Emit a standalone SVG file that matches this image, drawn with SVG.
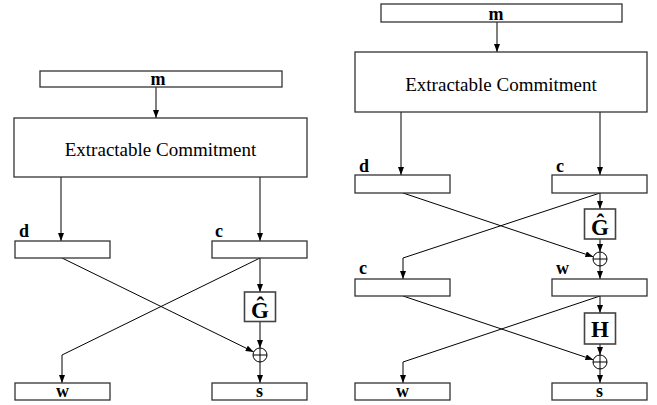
<svg xmlns="http://www.w3.org/2000/svg" width="657" height="405" viewBox="0 0 657 405">
<defs>
<marker id="ah" viewBox="0 0 8 6" refX="8" refY="3" markerWidth="8" markerHeight="6" markerUnits="userSpaceOnUse" orient="auto">
<path d="M0,0 L8,3 L0,6 Z" fill="#000"/>
</marker>
<style>
.box{fill:#fff;stroke:#333;stroke-width:1.3}
.fn{fill:#fff;stroke:#444;stroke-width:1.6}
.ln{fill:none;stroke:#000;stroke-width:1}
.ar{fill:none;stroke:#000;stroke-width:1;marker-end:url(#ah)}
.xor{fill:#fff;stroke:#000;stroke-width:1}
.lb{font-family:"Liberation Serif",serif;font-weight:bold;font-size:18px;fill:#000}
.ec{font-family:"Liberation Serif",serif;font-size:19px;fill:#000;text-anchor:middle}
.g{font-family:"Liberation Serif",serif;font-weight:bold;font-size:23px;fill:#000;text-anchor:middle}
</style>
</defs>
<rect width="657" height="405" fill="#fff"/>
<g id="connectors">
<line class="ar" x1="156" y1="87" x2="156" y2="118"/>
<line class="ar" x1="61" y1="177" x2="61" y2="241"/>
<line class="ar" x1="260" y1="177" x2="260" y2="241"/>
<line class="ar" x1="62" y1="258" x2="253.7" y2="351.9"/>
<polyline class="ar" points="260,258 62,355 62,383"/>
<line class="ar" x1="260" y1="258" x2="260" y2="292"/>
<line class="ar" x1="260" y1="321.5" x2="260" y2="348"/>
<line class="ar" x1="260" y1="362" x2="260" y2="383"/>
<line class="ar" x1="497" y1="22" x2="497" y2="52"/>
<line class="ar" x1="401" y1="112" x2="401" y2="175"/>
<line class="ar" x1="600" y1="112" x2="600" y2="175"/>
<line class="ar" x1="600" y1="193" x2="600" y2="209"/>
<line class="ar" x1="600" y1="239" x2="600" y2="252"/>
<line class="ar" x1="403" y1="193" x2="593.4" y2="256.8"/>
<polyline class="ar" points="600,193 403,258 403,279"/>
<line class="ar" x1="600" y1="266" x2="600" y2="279"/>
<line class="ar" x1="600" y1="296" x2="600" y2="313"/>
<line class="ar" x1="600" y1="344" x2="600" y2="355"/>
<line class="ar" x1="403" y1="296" x2="593.4" y2="359.8"/>
<polyline class="ar" points="600,296 403,362 403,383"/>
<line class="ar" x1="600" y1="369" x2="600" y2="383"/>
</g>
<g id="L-m"><rect class="box" x="40" y="71" width="242" height="16"/><text class="lb" x="158" y="85" text-anchor="middle" font-size="20">m</text></g>
<g id="L-ec"><rect class="box" x="14" y="118" width="293" height="59"/><text class="ec" x="160.5" y="156">Extractable Commitment</text></g>
<g id="L-d"><rect class="box" x="15" y="241" width="95" height="17"/><text class="lb" x="19" y="237">d</text></g>
<g id="L-c"><rect class="box" x="212" y="241" width="95" height="17"/><text class="lb" x="215" y="237">c</text></g>
<g id="L-G"><rect class="fn" x="244.5" y="292" width="31" height="29.5"/><text class="g" x="260" y="318">Ĝ</text></g>
<g id="L-xor"><circle class="xor" cx="260" cy="355" r="7"/><line class="ln" x1="253" y1="355" x2="267" y2="355"/><line class="ln" x1="260" y1="348" x2="260" y2="362"/></g>
<g id="L-w"><rect class="box" x="15" y="383" width="95" height="17"/><text class="lb" x="62.5" y="396.5" text-anchor="middle">w</text></g>
<g id="L-s"><rect class="box" x="212" y="383" width="95" height="17"/><text class="lb" x="259.5" y="396.5" text-anchor="middle">s</text></g>
<g id="R-m"><rect class="box" x="381" y="4" width="241" height="18"/><text class="lb" x="496" y="19.5" text-anchor="middle" font-size="20">m</text></g>
<g id="R-ec"><rect class="box" x="355" y="52" width="292" height="60"/><text class="ec" x="501" y="91">Extractable Commitment</text></g>
<g id="R-d"><rect class="box" x="355" y="175" width="95" height="18"/><text class="lb" x="359" y="172">d</text></g>
<g id="R-c"><rect class="box" x="552" y="175" width="95" height="18"/><text class="lb" x="556" y="172">c</text></g>
<g id="R-G"><rect class="fn" x="584.5" y="209" width="31" height="30"/><text class="g" x="600" y="235">Ĝ</text></g>
<g id="R-xor1"><circle class="xor" cx="600" cy="259" r="7"/><line class="ln" x1="593" y1="259" x2="607" y2="259"/><line class="ln" x1="600" y1="252" x2="600" y2="266"/></g>
<g id="R-c2"><rect class="box" x="355" y="279" width="95" height="17"/><text class="lb" x="359" y="274">c</text></g>
<g id="R-w2"><rect class="box" x="552" y="279" width="95" height="17"/><text class="lb" x="556" y="274">w</text></g>
<g id="R-H"><rect class="fn" x="584.5" y="313" width="31" height="31"/><text class="g" x="600" y="336.5">H</text></g>
<g id="R-xor2"><circle class="xor" cx="600" cy="362" r="7"/><line class="ln" x1="593" y1="362" x2="607" y2="362"/><line class="ln" x1="600" y1="355" x2="600" y2="369"/></g>
<g id="R-w"><rect class="box" x="355" y="383" width="95" height="17"/><text class="lb" x="402.5" y="396.5" text-anchor="middle">w</text></g>
<g id="R-s"><rect class="box" x="552" y="383" width="95" height="17"/><text class="lb" x="599.5" y="396.5" text-anchor="middle">s</text></g>
</svg>
